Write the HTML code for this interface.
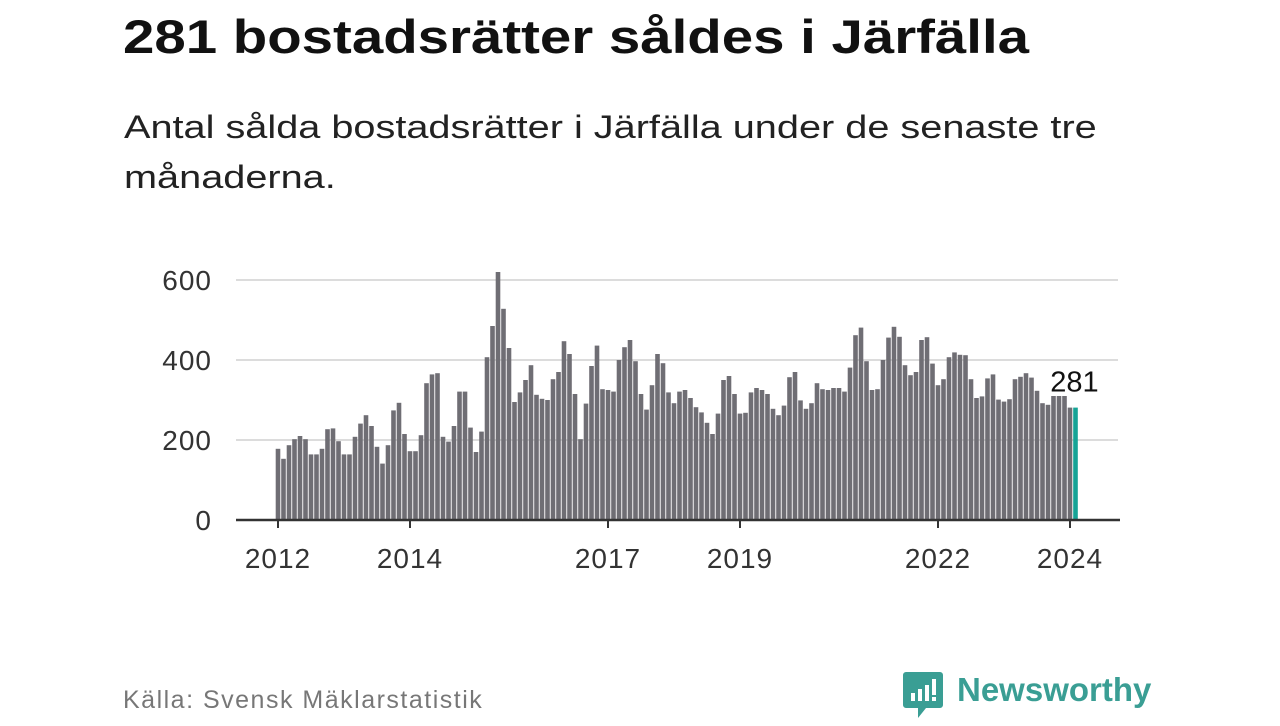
<!DOCTYPE html>
<html><head><meta charset="utf-8"><style>
body{margin:0;width:1280px;height:720px;background:#fff;overflow:hidden;font-family:"Liberation Sans","DejaVu Sans",sans-serif;position:relative}
.t{position:absolute;white-space:nowrap}
</style></head><body>
<div class="t" style="left:123px;top:9px;font-size:47px;font-weight:bold;color:#111;transform:scaleX(1.2);transform-origin:0 0">281 bostadsrätter såldes i Järfälla</div>
<div class="t" style="left:124px;top:102px;font-size:32px;line-height:50px;color:#222;transform:scaleX(1.24);transform-origin:0 0">Antal sålda bostadsrätter i Järfälla under de senaste tre<br>månaderna.</div>
<svg id="chart" width="1280" height="720" style="position:absolute;left:0;top:0"></svg>
<div class="t" style="left:123px;top:686px;font-size:25px;letter-spacing:1.5px;color:#777">Källa: Svensk Mäklarstatistik</div>
<div style="position:absolute;left:902px;top:671px;width:40px;height:40px">
<svg width="44" height="50"><path d="M4 1h34a3 3 0 0 1 3 3v30a3 3 0 0 1-3 3H24l-8 10v-10H4a3 3 0 0 1-3-3V4a3 3 0 0 1 3-3z" fill="#3a9e94"/><rect x="9" y="22" width="4" height="8" fill="#fff"/><rect x="16" y="18" width="4" height="12" fill="#fff"/><rect x="23" y="14" width="4" height="16" fill="#fff"/><rect x="30" y="8" width="4" height="16" fill="#fff"/><rect x="30" y="26" width="4" height="4" fill="#fff"/></svg></div>
<div class="t" style="left:957px;top:671px;font-size:33px;font-weight:bold;color:#3a9e94">Newsworthy</div>
<script>
const values=[178,153,187,202,210,202,164,164,178,227,229,197,164,164,208,241,262,235,183,141,187,274,293,215,172,172,212,342,364,367,208,196,235,321,321,231,170,221,407,485,620,528,430,295,319,350,387,313,303,300,352,370,447,415,315,202,291,385,436,327,325,321,400,432,450,397,315,276,337,415,392,319,292,321,325,305,282,269,243,215,266,350,360,315,266,268,319,330,325,315,278,262,286,357,370,299,278,292,342,327,325,330,330,321,381,462,481,397,325,327,400,456,483,458,387,362,370,450,457,391,337,352,407,419,413,412,352,305,309,354,364,301,296,302,352,358,367,356,323,292,288,310,310,310,281,281];
const yTicks=[0,200,400,600];
const xYears=[2012,2014,2017,2019,2022,2024];
const startYear=2012;
const NS="http://www.w3.org/2000/svg";
const svg=document.getElementById('chart');
const x0=278,step=5.5,yBase=520,yScale=0.4;
const xPos=i=>x0+step*i;
const yPos=v=>yBase-v*yScale;
function mk(tag,attrs){const e=document.createElementNS(NS,tag);for(const k in attrs)e.setAttribute(k,attrs[k]);svg.appendChild(e);return e;}
yTicks.forEach(v=>{
 if(v>0){const g=mk('line',{x1:236,x2:1118,y1:yPos(v),y2:yPos(v),stroke:'#dcdcdc','stroke-width':2});
 
 }
 const t=mk('text',{x:212,y:yPos(v)+10,'text-anchor':'end','font-size':28,'letter-spacing':1,fill:'#333','font-family':'Liberation Sans, sans-serif'});
 t.textContent=v;
 
 
});
values.forEach((v,i)=>{
 const last=i===values.length-1;
 const r=mk('rect',{x:xPos(i)-2.3,y:yPos(v),width:4.6,height:v*yScale,fill:last?'#16a396':'#6f6e74'});
 
 
});
const ax=mk('line',{x1:236,x2:1120,y1:yBase,y2:yBase,stroke:'#333','stroke-width':2.5});


xYears.forEach(y=>{
 const x=xPos((y-startYear)*12);
 const tk=mk('line',{x1:x,x2:x,y1:yBase,y2:yBase+8,stroke:'#333','stroke-width':2});
 
 
 const t=mk('text',{x:x,y:568,'text-anchor':'middle','font-size':28,'letter-spacing':1,fill:'#333','font-family':'Liberation Sans, sans-serif'});
 t.textContent=y;
 
 
});
const li=values.length-1;
const lab=mk('text',{x:xPos(li)-1,y:yPos(values[li])-16,'text-anchor':'middle','font-size':29,fill:'#111','font-family':'Liberation Sans, sans-serif'});
lab.textContent=values[li];


</script>
</body></html>
